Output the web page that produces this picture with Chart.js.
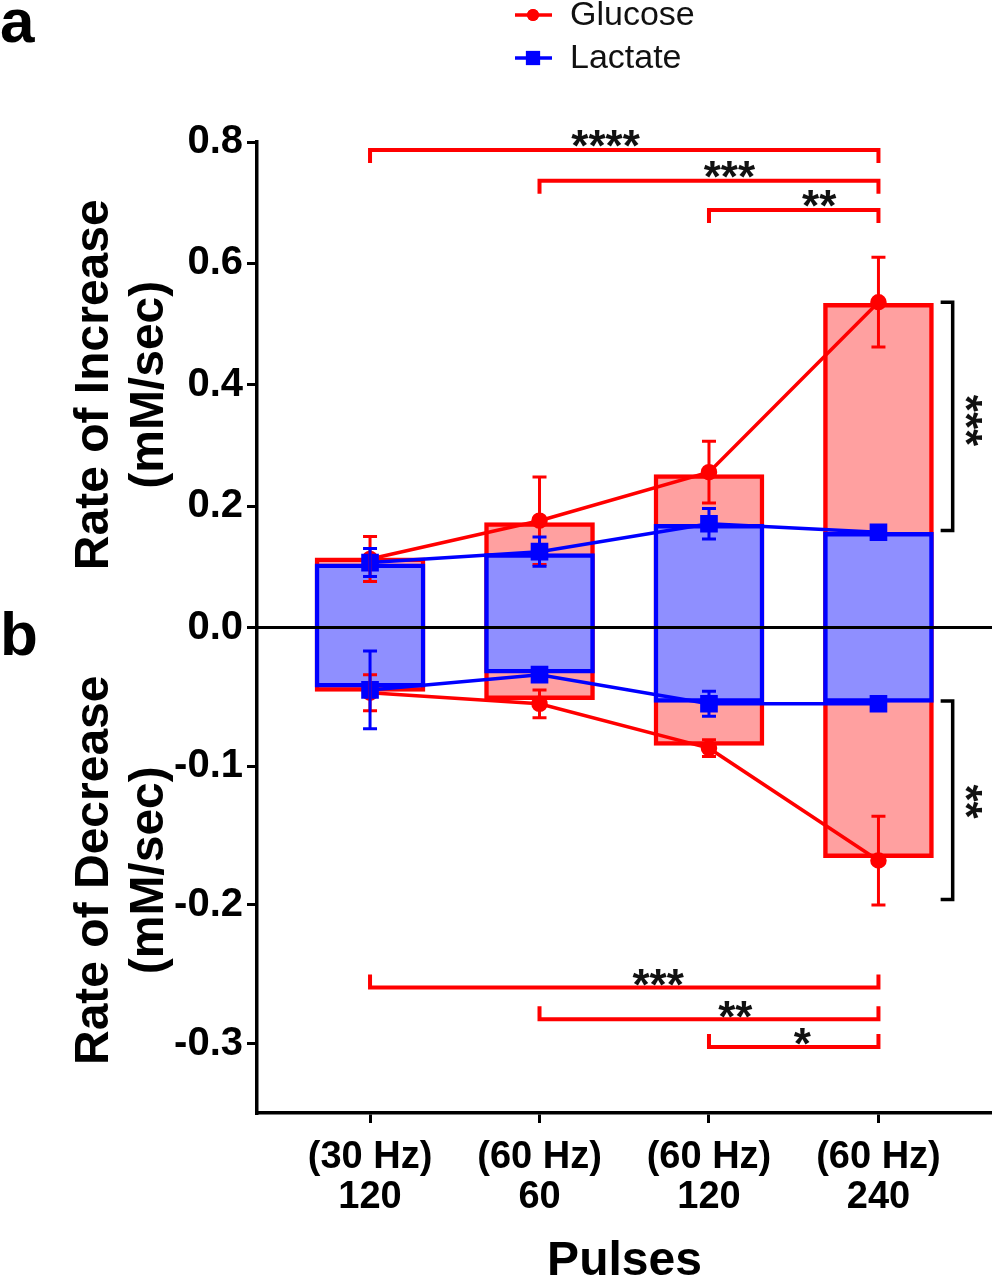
<!DOCTYPE html>
<html>
<head>
<meta charset="utf-8">
<script src="https://cdn.jsdelivr.net/npm/chart.js@4"></script>
<style>
  body { margin: 0; background: #fff; }
  #wrap { width: 992px; height: 1284px; }
</style>
</head>
<body>
<div id="wrap"><canvas id="chartCanvas" width="992" height="1284"></canvas></div>
<script>
// categories (x axis)
var pulseLabels = [['(30 Hz)', '120'], ['(60 Hz)', '60'], ['(60 Hz)', '120'], ['(60 Hz)', '240']];
var topTicks = [0, 0.2, 0.4, 0.6, 0.8];
var bottomTicks = [-0.3, -0.2, -0.1];

// bar heights (a: increase, b: decrease)
var glucoseIncBar = [0.115, 0.173, 0.252, 0.534];
var lactateIncBar = [0.105, 0.122, 0.170, 0.157];
var glucoseDecBar = [-0.046, -0.052, -0.085, -0.166];
var lactateDecBar = [-0.043, -0.033, -0.054, -0.054];

// mean points on the lines
var glucoseInc = [0.113, 0.176, 0.256, 0.536];
var lactateInc = [0.107, 0.125, 0.171, 0.157];
var glucoseDec = [-0.047, -0.055, -0.087, -0.168];
var lactateDec = [-0.045, -0.034, -0.055, -0.055];

// error bars (+/-)
var glucoseIncErr = [0.037, 0.072, 0.051, 0.074];
var lactateIncErr = [0.023, 0.024, 0.025, 0.010];
var glucoseDecErr = [0.013, 0.010, 0.006, 0.032];
var lactateDecErr = [0.028, 0.004, 0.009, 0.003];

// significance brackets
var topBrackets = [
  { from: 0, to: 3, at: 0.787, stars: '****', sx: 1.39 },
  { from: 1, to: 3, at: 0.736, stars: '***', sx: 2.12 },
  { from: 2, to: 3, at: 0.688, stars: '**', sx: 2.65 }
];
var bottomBrackets = [
  { from: 0, to: 3, at: -0.2595, stars: '***', sx: 1.70 },
  { from: 1, to: 3, at: -0.2824, stars: '**', sx: 2.155 },
  { from: 2, to: 3, at: -0.3025, stars: '*', sx: 2.55 }
];
var sideBrackets = [
  { axis: 'yTop', from: 0.536, to: 0.160, stars: '***', sy: 0.341 },
  { axis: 'yBot', from: -0.053, to: -0.196, stars: '**', sy: -0.1255 }
];

var RED = '#ff0000';
var BLUE = '#0000ff';
var FONT = '"Liberation Sans", Arial, sans-serif';
Chart.defaults.font.family = FONT;
Chart.defaults.color = '#000';

function toPts(vals) {
  return vals.map(function(v, i) { return { x: i, y: v }; });
}

function barSet(label, vals, axis, fill, line, order) {
  return {
    type: 'bar', label: label, data: toPts(vals), yAxisID: axis,
    backgroundColor: fill, borderColor: line, borderWidth: 4.5,
    barThickness: 110, grouped: false, order: order
  };
}

function lineSet(label, vals, axis, color, style, radius, order) {
  return {
    type: 'line', label: label, data: toPts(vals), yAxisID: axis,
    borderColor: color, backgroundColor: color, borderWidth: 3.5,
    pointStyle: style, pointRadius: radius, pointHoverRadius: radius,
    tension: 0, order: order, clip: false
  };
}

function yAxis(min, max, ticks, title, weight) {
  return {
    type: 'linear', axis: 'y', position: 'left', stack: 'rate', stackWeight: 1, weight: weight,
    min: min, max: max,
    afterBuildTicks: function(s) { s.ticks = ticks.map(function(v) { return { value: v }; }); },
    afterFit: function(s) { s.width = 257; },
    ticks: {
      callback: function(v) { return Number(v).toFixed(1); },
      color: '#000', font: { size: 40, weight: 'bold' }, padding: 4, autoSkip: false
    },
    grid: { drawOnChartArea: false, drawTicks: true, tickLength: 10, color: '#000', lineWidth: 3 },
    border: { display: true, color: '#000', width: 3.5 },
    title: {
      display: true, text: title, color: '#000',
      font: { size: 48, weight: 'bold', lineHeight: 1.15 }, padding: { top: 67, bottom: 0 }
    }
  };
}

var errorSets = [
  { vals: glucoseInc, errs: glucoseIncErr, axis: 'yTop', color: RED },
  { vals: glucoseDec, errs: glucoseDecErr, axis: 'yBot', color: RED },
  { vals: lactateInc, errs: lactateIncErr, axis: 'yTop', color: BLUE },
  { vals: lactateDec, errs: lactateDecErr, axis: 'yBot', color: BLUE }
];

function drawStars(ctx, text, px, py, rot) {
  var size = 44;
  ctx.save();
  ctx.translate(px, py);
  if (rot) ctx.rotate(rot);
  ctx.font = 'bold ' + size + 'px ' + FONT;
  ctx.fillStyle = '#111';
  ctx.textAlign = 'center';
  ctx.textBaseline = 'alphabetic';
  ctx.fillText(text, 0, 0.575 * size);
  ctx.restore();
}

var overlay = {
  id: 'overlay',
  afterDatasetsDraw: function(chart) {
    var ctx = chart.ctx, x = chart.scales.x, area = chart.chartArea;
    var yT = chart.scales.yTop, yB = chart.scales.yBot;
    ctx.save();

    // zero line across both panels
    var y0 = yT.getPixelForValue(0);
    ctx.strokeStyle = '#000';
    ctx.lineWidth = 3;
    ctx.beginPath();
    ctx.moveTo(area.left, y0);
    ctx.lineTo(area.right, y0);
    ctx.stroke();

    // error bars
    errorSets.forEach(function(set) {
      var sc = chart.scales[set.axis];
      ctx.strokeStyle = set.color;
      ctx.lineWidth = 3;
      set.vals.forEach(function(v, i) {
        var px = x.getPixelForValue(i);
        var hi = sc.getPixelForValue(v + set.errs[i]);
        var lo = sc.getPixelForValue(v - set.errs[i]);
        ctx.beginPath();
        ctx.moveTo(px, hi); ctx.lineTo(px, lo);
        ctx.moveTo(px - 7, hi); ctx.lineTo(px + 7, hi);
        ctx.moveTo(px - 7, lo); ctx.lineTo(px + 7, lo);
        ctx.stroke();
      });
    });

    // red brackets between groups
    ctx.strokeStyle = RED;
    ctx.lineWidth = 4;
    topBrackets.forEach(function(b) {
      var py = yT.getPixelForValue(b.at);
      var x0 = x.getPixelForValue(b.from), x1 = x.getPixelForValue(b.to);
      ctx.beginPath();
      ctx.moveTo(x0, py + 13); ctx.lineTo(x0, py); ctx.lineTo(x1, py); ctx.lineTo(x1, py + 13);
      ctx.stroke();
      drawStars(ctx, b.stars, x.getPixelForValue(b.sx), py - 14, 0);
    });
    bottomBrackets.forEach(function(b) {
      var py = yB.getPixelForValue(b.at);
      var x0 = x.getPixelForValue(b.from), x1 = x.getPixelForValue(b.to);
      ctx.beginPath();
      ctx.moveTo(x0, py - 13); ctx.lineTo(x0, py); ctx.lineTo(x1, py); ctx.lineTo(x1, py - 13);
      ctx.stroke();
      drawStars(ctx, b.stars, x.getPixelForValue(b.sx), py - 13, 0);
    });

    // black brackets glucose vs lactate
    ctx.strokeStyle = '#000';
    ctx.lineWidth = 3.5;
    var bx = x.getPixelForValue(3.438), tx = x.getPixelForValue(3.367);
    sideBrackets.forEach(function(b) {
      var sc = chart.scales[b.axis];
      var ya = sc.getPixelForValue(b.from), yb = sc.getPixelForValue(b.to);
      ctx.beginPath();
      ctx.moveTo(tx, ya); ctx.lineTo(bx, ya); ctx.lineTo(bx, yb); ctx.lineTo(tx, yb);
      ctx.stroke();
      drawStars(ctx, b.stars, x.getPixelForValue(3.58), sc.getPixelForValue(b.sy), Math.PI / 2);
    });
    ctx.restore();
  },
  afterDraw: function(chart) {
    var ctx = chart.ctx;
    ctx.save();
    // legend
    var items = [
      { label: 'Glucose', color: RED, style: 'circle', r: 6, y: 15 },
      { label: 'Lactate', color: BLUE, style: 'rect', r: 10, y: 58 }
    ];
    items.forEach(function(it) {
      ctx.strokeStyle = it.color;
      ctx.lineWidth = 3.5;
      ctx.beginPath();
      ctx.moveTo(515, it.y); ctx.lineTo(552, it.y);
      ctx.stroke();
      ctx.fillStyle = it.color;
      Chart.helpers.drawPoint(ctx, { pointStyle: it.style, radius: it.r, borderWidth: 0 }, 533, it.y);
      ctx.fill();
      ctx.fillStyle = '#111';
      ctx.font = '34px ' + FONT;
      ctx.textAlign = 'left';
      ctx.textBaseline = 'middle';
      ctx.fillText(it.label, 570, it.y + 1);
    });
    // panel letters
    ctx.fillStyle = '#000';
    ctx.font = 'bold 62px ' + FONT;
    ctx.textBaseline = 'alphabetic';
    ctx.fillText('a', 0, 42);
    ctx.fillText('b', 0, 655);
    ctx.restore();
  }
};

var ctx = document.getElementById('chartCanvas').getContext('2d');
var chart = new Chart(ctx, {
  type: 'bar',
  data: {
    datasets: [
      barSet('Glucose', glucoseIncBar, 'yTop', 'rgb(255,160,160)', RED, 4),
      barSet('Glucose', glucoseDecBar, 'yBot', 'rgb(255,160,160)', RED, 4),
      barSet('Lactate', lactateIncBar, 'yTop', 'rgb(143,143,255)', BLUE, 3),
      barSet('Lactate', lactateDecBar, 'yBot', 'rgb(143,143,255)', BLUE, 3),
      lineSet('Glucose', glucoseInc, 'yTop', RED, 'circle', 6.5, 2),
      lineSet('Glucose', glucoseDec, 'yBot', RED, 'circle', 6.5, 2),
      lineSet('Lactate', lactateInc, 'yTop', BLUE, 'rect', 10, 1),
      lineSet('Lactate', lactateDec, 'yBot', BLUE, 'rect', 10, 1)
    ]
  },
  options: {
    responsive: false,
    animation: false,
    devicePixelRatio: 1,
    events: [],
    layout: { autoPadding: false, padding: { top: 142, left: 0, right: 0, bottom: 0 } },
    plugins: { legend: { display: false }, tooltip: { enabled: false } },
    scales: {
      x: {
        type: 'linear', min: -0.667, max: 3.67, offset: false,
        afterBuildTicks: function(s) { s.ticks = [0, 1, 2, 3].map(function(v) { return { value: v }; }); },
        afterFit: function(s) { s.height = 171; },
        ticks: {
          callback: function(v) { return pulseLabels[Math.round(v)]; },
          color: '#000', font: { size: 38, weight: 'bold', lineHeight: 1.05 },
          padding: 15, autoSkip: false, maxRotation: 0
        },
        grid: { drawOnChartArea: false, drawTicks: true, tickLength: 10, color: '#000', lineWidth: 3, offset: false },
        border: { display: true, color: '#000', width: 3.5 },
        title: {
          display: true, text: 'Pulses', color: '#000',
          font: { size: 48, weight: 'bold', lineHeight: 0.92 }, padding: { top: 0, bottom: 0 }
        }
      },
      yTop: yAxis(0, 0.8, topTicks, ['Rate of Increase', '(mM/sec)'], 1),
      yBot: yAxis(-0.35, 0, bottomTicks, ['Rate of Decrease', '(mM/sec)'], 0)
    }
  },
  plugins: [overlay]
});
</script>
</body>
</html>
